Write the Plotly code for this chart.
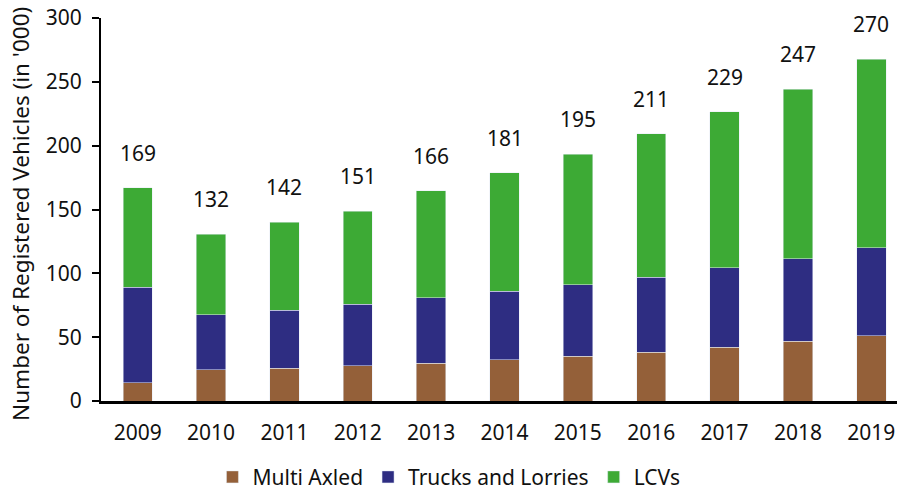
import plotly.graph_objects as go

years = ['2009', '2010', '2011', '2012', '2013', '2014', '2015', '2016', '2017', '2018', '2019']
multi_axled = [14.4, 24.3, 25.7, 27.8, 29.6, 32.2, 35.1, 38.2, 42.1, 46.8, 51.3]
trucks_lorries = [74.6, 43.2, 45.2, 47.8, 51.2, 53.6, 55.9, 58.6, 62.2, 64.6, 68.7]
lcvs = [78.1, 63.0, 69.3, 73.2, 83.7, 92.8, 102.3, 112.4, 122.2, 132.9, 147.8]
total_labels = ['169', '132', '142', '151', '166', '181', '195', '211', '229', '247', '270']

FONT = 'Noto Sans'
FS = 21

fig = go.Figure()
fig.add_trace(go.Bar(x=years, y=multi_axled, name='Multi Axled', marker_color='#946039'))
fig.add_trace(go.Bar(x=years, y=trucks_lorries, name='Trucks and Lorries', marker_color='#2E2D82'))
fig.add_trace(go.Bar(x=years, y=lcvs, name='LCVs', marker_color='#3DAA35'))

# totals written above each stack
totals = [a + b + c for a, b, c in zip(multi_axled, trucks_lorries, lcvs)]
for i, (tot, lab) in enumerate(zip(totals, total_labels)):
    fig.add_annotation(x=i, y=tot, text=lab, showarrow=False, yanchor='middle', yshift=35,
                       font=dict(family=FONT, size=FS, color='#111'))

# y title as an annotation so it can sit a bit lower than the plot centre
fig.add_annotation(text="Number of Registered Vehicles (in '000)", textangle=-90,
                   xref='paper', yref='paper', x=-0.102, y=0.488, xanchor='center', yanchor='middle',
                   showarrow=False, font=dict(family=FONT, size=22.5, color='#111'))

fig.update_layout(
    barmode='stack',
    bargap=0.6,
    width=897,
    height=491,
    margin=dict(l=101, r=0, t=18, b=90),
    plot_bgcolor='white',
    paper_bgcolor='white',
    font=dict(family=FONT, size=FS, color='#111'),
    showlegend=True,
    legend=dict(orientation='h', x=0.14, xanchor='left', yref='container', y=0.028,
                yanchor='middle', font=dict(size=FS), traceorder='normal', itemwidth=30),
    xaxis=dict(type='category', range=[-0.5, 10.35], showline=True, linecolor='black',
               linewidth=2.5, ticks='', tickfont=dict(size=FS), showgrid=False,
               automargin=False, ticklabelstandoff=11, ticklabeloverflow='allow'),
    yaxis=dict(range=[0, 300], dtick=50, showline=True, linecolor='black', linewidth=2,
               ticks='outside', ticklen=7, tickwidth=2, tickcolor='black', showgrid=False,
               zeroline=False, tickfont=dict(size=FS), automargin=False, ticklabelstandoff=6,
               ticklabeloverflow='allow'),
)

# drop the default body margin so the figure fills the window
fig.write_html('out.html', config={'displayModeBar': False},
               post_script="document.body.style.margin='0';")
